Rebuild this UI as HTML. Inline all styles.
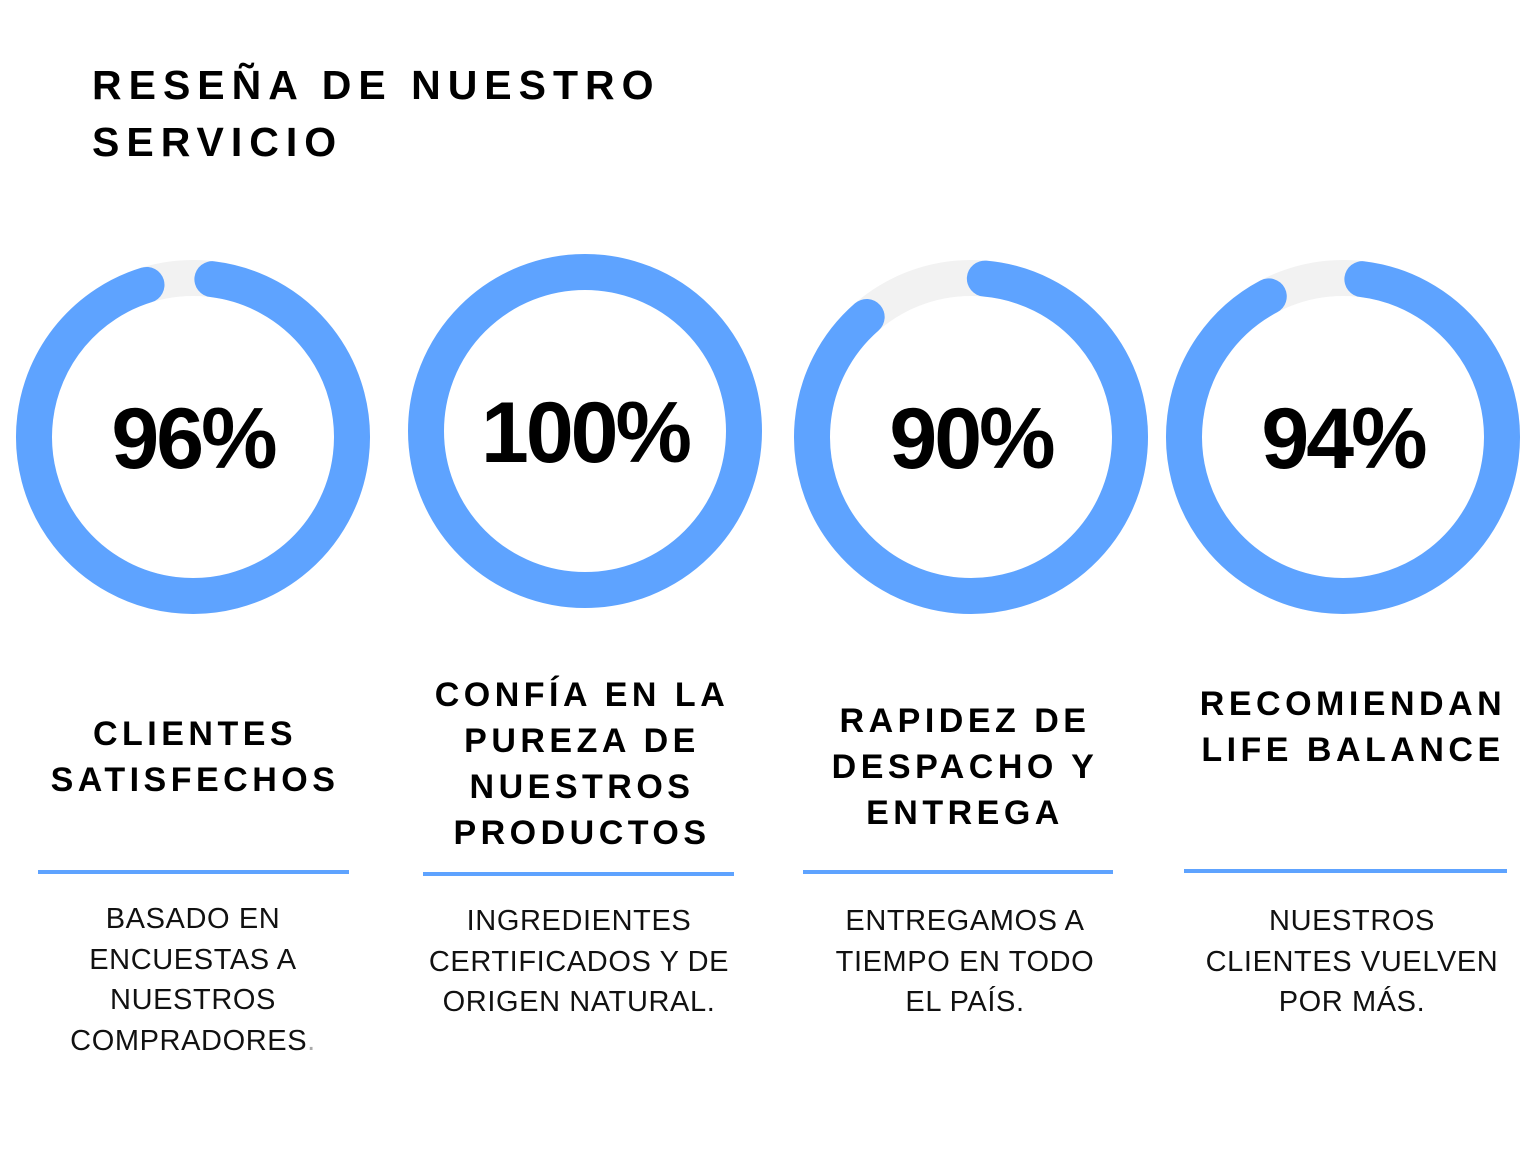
<!DOCTYPE html>
<html><head><meta charset="utf-8"><style>
html,body{margin:0;padding:0;background:#fff;}
body{width:1536px;height:1152px;position:relative;overflow:hidden;font-family:"Liberation Sans",sans-serif;color:#000;}
.title{position:absolute;left:92px;top:57px;font-weight:bold;font-size:41px;letter-spacing:7px;line-height:57px;}
.h{position:absolute;font-weight:bold;font-size:34px;letter-spacing:4.5px;text-align:center;line-height:46px;}
.p{position:absolute;font-size:29px;text-align:center;line-height:40.5px;letter-spacing:0.6px;color:#111;}
.line{position:absolute;height:4px;background:#5ea3ff;}
.pct{position:absolute;font-weight:bold;font-size:86px;letter-spacing:-3px;text-align:center;width:360px;}
svg{position:absolute;left:0;top:0;}
</style></head><body>
<svg width="1536" height="1152">
<g fill="none" stroke-width="36">
<circle cx="193" cy="437" r="159" stroke="#f2f2f2"/>
<circle cx="193" cy="437" r="159" stroke="#5ea3ff" stroke-linecap="round" stroke-dasharray="932 2000" transform="rotate(-83 193 437)"/>
<circle cx="585" cy="431" r="159" stroke="#5ea3ff"/>
<circle cx="971" cy="437" r="159" stroke="#f2f2f2"/>
<circle cx="971" cy="437" r="159" stroke="#5ea3ff" stroke-linecap="round" stroke-dasharray="871 2000" transform="rotate(-85 971 437)"/>
<circle cx="1343" cy="437" r="159" stroke="#f2f2f2"/>
<circle cx="1343" cy="437" r="159" stroke="#5ea3ff" stroke-linecap="round" stroke-dasharray="902 2000" transform="rotate(-83 1343 437)"/>
</g></svg>
<div class="title">RESEÑA DE NUESTRO<br>SERVICIO</div>
<div class="pct" style="left:13px;top:390px;">96%</div>
<div class="pct" style="left:405px;top:384px;">100%</div>
<div class="pct" style="left:791px;top:390px;">90%</div>
<div class="pct" style="left:1163px;top:390px;">94%</div>

<div class="h" style="left:15px;width:360px;top:711px;">CLIENTES<br>SATISFECHOS</div>
<div class="h" style="left:402px;width:360px;top:672px;">CONFÍA EN LA<br>PUREZA DE<br>NUESTROS<br>PRODUCTOS</div>
<div class="h" style="left:785px;width:360px;top:698px;">RAPIDEZ DE<br>DESPACHO Y<br>ENTREGA</div>
<div class="h" style="left:1163px;width:380px;top:681px;">RECOMIENDAN<br>LIFE BALANCE</div>

<div class="line" style="left:38px;width:311px;top:870px;"></div>
<div class="line" style="left:423px;width:311px;top:872px;"></div>
<div class="line" style="left:803px;width:310px;top:870px;"></div>
<div class="line" style="left:1184px;width:323px;top:869px;"></div>

<div class="p" style="left:13px;width:360px;top:899px;">BASADO EN<br>ENCUESTAS A<br>NUESTROS<br>COMPRADORES<span style="color:#aaa">.</span></div>
<div class="p" style="left:399px;width:360px;top:901px;">INGREDIENTES<br>CERTIFICADOS Y DE<br>ORIGEN NATURAL.</div>
<div class="p" style="left:785px;width:360px;top:901px;">ENTREGAMOS A<br>TIEMPO EN TODO<br>EL PAÍS.</div>
<div class="p" style="left:1172px;width:360px;top:901px;">NUESTROS<br>CLIENTES VUELVEN<br>POR MÁS.</div>
</body></html>
